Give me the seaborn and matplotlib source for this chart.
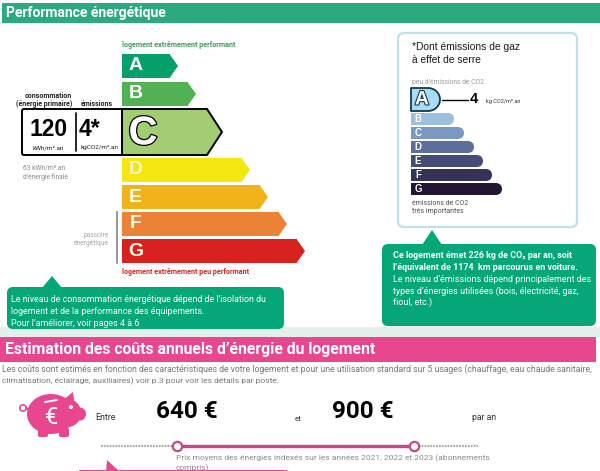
import matplotlib
matplotlib.use('Agg')
import matplotlib.pyplot as plt
import matplotlib.patheffects as pe
from matplotlib.patches import Ellipse, FancyBboxPatch, Polygon, Rectangle, Wedge, Arc
import numpy as np
import seaborn as sns

# energy label, total arrow length of each class
upper_grades = ['A', 'B']
upper_lengths = [56, 74]
upper_colors = ['#05A06A', '#52B153']
current_grade = ['C']
current_length = [100]
current_color = ['#A2CD73']
lower_grades = ['D', 'E', 'F', 'G']
lower_lengths = [128, 146, 165, 183]
lower_colors = ['#F3E70F', '#F0B41A', '#EB8235', '#D7221F']

# greenhouse gas label
co2_current_grade = ['A']
co2_current_length = [29]
co2_current_color = ['#A9DBF5']
co2_grades = ['B', 'C', 'D', 'E', 'F', 'G']
co2_lengths = [43, 53, 63, 72, 81, 91]
co2_colors = ['#9DBFDD', '#7A98C0', '#5C6E9C', '#444C78', '#353258', '#221634']

# yearly cost range
cost_low = 640
cost_high = 900
cost_scale = [557, 970]

GREEN = '#05A677'
PINK = '#E8468F'
W, H = 600, 471

sns.set_theme(style='white')
plt.rcParams['font.family'] = ['Roboto', 'DejaVu Sans']

fig = plt.figure(figsize=(6, 4.71), dpi=100)
bg = fig.add_axes([0, 0, 1, 1])
bg.set_xlim(0, W)
bg.set_ylim(H, 0)
bg.axis('off')


def label(x, y, s, size=5, color='#222222', weight='normal', ha='left', **kw):
    bg.text(x, y, s, fontsize=size, color=color, fontweight=weight, ha=ha, va='center', **kw)


def green_box(x0, y0, x1, y1, tip_x, tip_y):
    bg.add_patch(FancyBboxPatch((x0, y0), x1 - x0, y1 - y0, boxstyle='round,pad=0,rounding_size=6',
                                fc=GREEN, ec='none'))
    bg.add_patch(Polygon([(tip_x - 10, y0 + 1), (tip_x, tip_y), (tip_x + 10, y0 + 1)], fc=GREEN, ec='none'))


def bar_axes(x0, y0, x1, y1):
    ax = fig.add_axes([x0 / W, 1 - y1 / H, (x1 - x0) / W, (y1 - y0) / H])
    ax.patch.set_alpha(0)
    return ax


def grade_bars(box, grades, lengths, colors, end, thick):
    # bar body comes from seaborn, the arrow tip or round end is added on it
    ax = bar_axes(*box)
    body = np.array(lengths) - end
    sns.barplot(x=body, y=grades, hue=grades, palette=colors, width=thick, legend=False,
                dodge=False, saturation=1, linewidth=0, ax=ax)
    ax.set_xlim(0, box[2] - box[0])
    ax.axis('off')
    return ax


def add_tips(ax, tip, colors):
    for bar, color in zip(list(ax.patches), colors):
        x1 = bar.get_width()
        y0, h = bar.get_y(), bar.get_height()
        ax.add_patch(Polygon([(x1 - 0.5, y0), (x1 + tip, y0 + h / 2), (x1 - 0.5, y0 + h)], fc=color, ec='none',
                             clip_on=False))


def add_round_ends(ax, radius, colors):
    for bar, color in zip(list(ax.patches), colors):
        x1 = bar.get_width()
        yc = bar.get_y() + bar.get_height() / 2
        ax.add_patch(Ellipse((x1, yc), radius * 2, bar.get_height(), fc=color, ec='none', clip_on=False))


def letters(ax, grades, x, size, color='white'):
    for i, g in enumerate(grades):
        ax.text(x, i, g, fontsize=size, color=color, fontweight='bold', ha='center', va='center',
                family='Liberation Sans')


# headers and strips
bg.add_patch(Rectangle((2, 3), W - 2, 20, fc='#2BAA80', ec='none'))
label(6, 12.5, 'Performance énergétique', size=10, color='white', weight='bold')
bg.add_patch(Rectangle((0, 327), W, 10, fc='#E4F0EB', ec='none'))
bg.add_patch(Rectangle((0, 337), 596, 25, fc=PINK, ec='none'))
label(5, 349.5, 'Estimation des coûts annuels d’énergie du logement', size=11.3, color='white', weight='bold')

# left side of the energy label
label(122, 45, 'logement extrêmement performant', size=5.1, color='#3F9A5B', weight='bold')
label(122, 272, 'logement extrêmement peu performant', size=5.1, color='#D7221F', weight='bold')
label(48, 96, 'consommation', size=5, ha='center', weight='bold')
label(44, 104, '(énergie primaire)', size=5, ha='center', weight='bold')
label(97, 104, 'émissions', size=5, ha='center', weight='bold')
bg.add_patch(FancyBboxPatch((22, 109), 110, 46, boxstyle='round,pad=0,rounding_size=2', fc='white', ec='black', lw=1.4))
bg.plot([75.5, 75.5], [113, 151], color='black', lw=1.2)
label(49, 130, '120', size=16.5, color='black', weight='bold', ha='center', family='Liberation Sans')
label(89, 130, '4*', size=16.5, color='black', weight='bold', ha='center', family='Liberation Sans')
label(48, 148, 'kWh/m².an', size=4.6, ha='center')
label(99, 148, 'kgCO2/m².an', size=4.6, ha='center')
label(23, 173, '63 kWh/m².an\nd’énergie finale', size=4.8, color='#8A8A8A', linespacing=1.3)
label(109, 239.5, 'passoire\nénergétique', size=4.8, color='#A8A8A8', ha='right', linespacing=1.35)
bg.plot([117, 117], [212, 263], color='#9A9AA5', lw=1.5)

ax_up = grade_bars((122, 52, 322, 108), upper_grades, upper_lengths, upper_colors, 8, 24 / 28)
add_tips(ax_up, 8, upper_colors)
letters(ax_up, upper_grades, 13.5, 14)

ax_c = grade_bars((122, 109, 322, 155), current_grade, current_length, current_color, 15, 1.0)
add_tips(ax_c, 15, current_color)
ax_c.set_ylim(0.5, -0.5)
body_c = current_length[0] - 15
ax_c.plot([body_c, current_length[0], body_c, 0], [-0.5, 0, 0.5, 0.5], color='black', lw=1.4, clip_on=False)
ax_c.plot([0, body_c], [-0.5, -0.5], color='black', lw=1.4, clip_on=False)
ax_c.plot([0, 0], [-0.5, 0.5], color='black', lw=1.4, clip_on=False)
ax_c.text(21, 0.03, current_grade[0], fontsize=29, color='white', fontweight='bold', ha='center', va='center',
          family='Liberation Sans', path_effects=[pe.withStroke(linewidth=1.8, foreground='black')])

ax_low = grade_bars((122, 156.5, 322, 264.5), lower_grades, lower_lengths, lower_colors, 8, 24 / 27)
add_tips(ax_low, 8, lower_colors)
letters(ax_low, lower_grades, 13.5, 14, color='#FFFDE8')
ax_low.texts[0].set_color('#FBF7C8')

# greenhouse gas panel
bg.add_patch(FancyBboxPatch((398, 33), 179, 194, boxstyle='round,pad=0,rounding_size=6', fc='white', ec='#BFE0EE', lw=1.6))
label(412, 47, '*Dont émissions de gaz', size=7.4, color='#1A1A1A', family='Liberation Sans')
label(412, 60, 'à effet de serre', size=7.4, color='#1A1A1A', family='Liberation Sans')
label(412, 82, 'peu d’émissions de CO2', size=4.9, color='#9A9A9A')
bg.plot([442, 468], [99.5, 99.5], color='black', lw=1)
label(470, 99, '4', size=10.5, color='black', weight='bold', family='Liberation Sans')
label(486, 101, 'kg CO2/m².an', size=4, color='#333333')
label(412, 207.5, 'émissions de CO2\ntrès importantes', size=5, color='#555555', linespacing=1.35)

ax_a = grade_bars((411, 88, 511, 111), co2_current_grade, co2_current_length, co2_current_color, 12, 1.0)
add_round_ends(ax_a, 12, co2_current_color)
ax_a.set_ylim(0.5, -0.5)
end_a = co2_current_length[0] - 12
ax_a.add_patch(Arc((end_a, 0), 24, 1, theta1=-90, theta2=90, color='#123A4A', lw=1.3, clip_on=False))
ax_a.plot([end_a, 0, 0, end_a], [-0.5, -0.5, 0.5, 0.5], color='#123A4A', lw=1.3, clip_on=False)
ax_a.text(11, 0.02, co2_current_grade[0], fontsize=14, color='white', fontweight='bold', ha='center', va='center',
          family='Liberation Sans', path_effects=[pe.withStroke(linewidth=1.6, foreground='#123A4A')])

ax_co2 = grade_bars((411, 112, 511, 196), co2_grades, co2_lengths, co2_colors, 5, 11.5 / 14)
add_round_ends(ax_co2, 5, co2_colors)
letters(ax_co2, co2_grades, 7, 7)

# comment boxes
green_box(7, 287, 284, 329, 52, 276)
label(11, 300, 'Le niveau de consommation énergétique dépend de l’isolation du', size=6.4, color='white')
label(11, 311, 'logement et de la performance des équipements.', size=6.4, color='white')
label(11, 323, 'Pour l’améliorer, voir pages 4 à 6', size=6.4, color='white')

green_box(382, 244, 596, 326, 432, 230)
label(393, 256, 'Ce logement émet 226 kg de CO₂ par an, soit', size=6.4, color='white', weight='bold')
label(393, 268, 'l’équivalent de 1174  km parcourus en voiture.', size=6.4, color='white', weight='bold')
label(393, 279, 'Le niveau d’émissions dépend principalement des', size=6.5, color='white')
label(393, 291, 'types d’énergies utilisées (bois, électricité, gaz,', size=6.5, color='white')
label(393, 302, 'fioul, etc.)', size=6.5, color='white')

# cost section
label(2, 369, 'Les coûts sont estimés en fonction des caractéristiques de votre logement et pour une utilisation standard sur 5 usages (chauffage, eau chaude sanitaire,',
      size=6.25, color='#777777')
label(2, 381, 'climatisation, éclairage, auxiliaires) voir p.3 pour voir les détails par poste.', size=6.1, color='#777777')

# piggy bank
bg.add_patch(Ellipse((51, 414), 48, 40, fc=PINK, ec='none'))
bg.add_patch(Ellipse((68, 413), 26, 28, fc=PINK, ec='none'))
bg.add_patch(Ellipse((80, 414), 12, 13, fc=PINK, ec='none'))
bg.add_patch(Polygon([(62, 401), (73, 392), (75, 408)], fc=PINK, ec='none'))
bg.add_patch(FancyBboxPatch((38, 428), 10, 9, boxstyle='round,pad=0,rounding_size=2', fc=PINK, ec='none'))
bg.add_patch(FancyBboxPatch((59, 428), 10, 9, boxstyle='round,pad=0,rounding_size=2', fc=PINK, ec='none'))
bg.add_patch(Wedge((23, 408), 4, 0, 360, width=1.6, fc=PINK, ec='none'))
bg.plot([26, 30], [408, 410], color=PINK, lw=1.6)
bg.add_patch(Ellipse((71, 407), 4, 4, fc='white', ec='none'))
bg.plot([45, 57], [402, 400], color='white', lw=1.4, solid_capstyle='round')
bg.text(52, 418, '€', fontsize=17, color='white', ha='center', va='center')

label(95, 417, 'Entre', size=6.4, color='#333333')
label(187, 411, f'{cost_low} €', size=17.5, color='black', weight='bold', ha='center')
label(295, 419, 'et', size=5.8, color='#333333')
label(363, 411, f'{cost_high} €', size=17.5, color='black', weight='bold', ha='center')
label(472, 418, 'par an', size=6.2, color='#333333')

# slider, scaled on euros
ax_s = bar_axes(101, 436, 478, 456)
ax_s.plot(cost_scale, [0, 0], color='#AAAAAA', lw=1.6, ls=(0, (0.8, 0.5)))
sns.lineplot(x=[cost_low, cost_high], y=[0, 0], color='#C9468A', lw=2.4, ax=ax_s, errorbar=None)
sns.scatterplot(x=[cost_low, cost_high], y=[0, 0], s=45, color='white', edgecolor='#C9468A', linewidth=1.6, ax=ax_s, zorder=5)
ax_s.set_xlim(*cost_scale)
ax_s.axis('off')

label(176, 458, 'Prix moyens des énergies indexés sur les années 2021, 2022 et 2023 (abonnements', size=6.05, color='#8A8A8A')
label(176, 468.5, 'compris)', size=6.05, color='#8A8A8A')
bg.add_patch(Polygon([(107, 460), (106, 472), (120, 472)], fc=PINK, ec='none', zorder=5))
bg.add_patch(Rectangle((79, 469.5), 208, 3, fc=PINK, ec='none', zorder=5))

fig.savefig('out.png', dpi=100)
